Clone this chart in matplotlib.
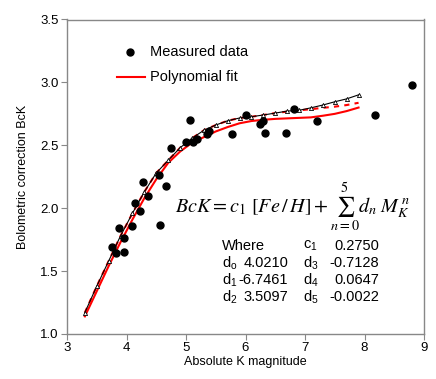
import matplotlib
matplotlib.use("Agg")
import matplotlib.pyplot as plt

plt.rcParams['font.family'] = ['Liberation Sans', 'DejaVu Sans']
plt.rcParams['mathtext.fontset'] = 'stix'

# measured data (absolute K magnitude, BcK)
meas_x = [4.27, 4.55, 4.67, 4.36, 4.15, 4.23, 4.56, 4.09, 3.87, 3.96, 3.75, 3.83, 3.95,
          5.07, 4.74, 5.00, 5.11, 5.18, 5.38, 5.36, 5.77, 6.00, 6.24, 6.30, 6.32, 6.68,
          6.82, 7.20, 8.18, 8.79]
meas_y = [2.21, 2.26, 2.18, 2.10, 2.04, 1.98, 1.87, 1.86, 1.84, 1.76, 1.69, 1.64, 1.65,
          2.70, 2.48, 2.53, 2.53, 2.55, 2.61, 2.59, 2.59, 2.74, 2.67, 2.69, 2.60, 2.60,
          2.79, 2.69, 2.74, 2.98]

# model curves
mk = [3.3, 3.5, 3.7, 3.9, 4.1, 4.3, 4.5, 4.7, 4.9, 5.1, 5.3, 5.5, 5.7, 5.9, 6.1, 6.3,
      6.5, 6.7, 6.9, 7.1, 7.3, 7.5, 7.7, 7.9]
bck_tri = [1.17, 1.38, 1.58, 1.78, 1.96, 2.13, 2.28, 2.38, 2.48, 2.556, 2.619, 2.661,
           2.695, 2.717, 2.727, 2.741, 2.756, 2.772, 2.778, 2.798, 2.82, 2.846, 2.869, 2.901]
bck_fit = [1.14, 1.34, 1.54, 1.73, 1.91, 2.08, 2.23, 2.36, 2.45, 2.52, 2.565, 2.61,
           2.645, 2.675, 2.693, 2.703, 2.71, 2.714, 2.718, 2.722, 2.735, 2.75, 2.772, 2.80]
bck_dot = [1.17, 1.38, 1.58, 1.78, 1.96, 2.13, 2.28, 2.38, 2.48, 2.556, 2.619, 2.661,
           2.695, 2.717, 2.727, 2.741, 2.756, 2.768, 2.778, 2.787, 2.798, 2.807, 2.82, 2.838]

fig = plt.figure(figsize=(4.36, 3.79), dpi=100)
ax = fig.add_axes([67/436, 1 - 334/379, 357/436, 314.5/379])

ax.plot(mk, bck_fit, color='#ff0000', lw=1.5, zorder=2)
ax.plot(mk, bck_dot, color='#ff0000', lw=1.5, dashes=(2.5, 2.5), zorder=2)
ax.plot(mk, bck_tri, color='black', lw=0.8, marker='^', ms=3, mfc='white',
        mec='black', mew=0.6, zorder=3)
ax.plot(meas_x, meas_y, 'o', color='black', ms=5.0, zorder=4)

ax.set_xlim(3, 9)
ax.set_ylim(1.0, 3.5)
ax.set_xticks([3, 4, 5, 6, 7, 8, 9])
ax.set_yticks([1.0, 1.5, 2.0, 2.5, 3.0, 3.5])
ax.set_yticklabels(['1.0', '1.5', '2.0', '2.5', '3.0', '3.5'])
for s in ax.spines.values():
    s.set_color('#888888')
    s.set_linewidth(1.0)
ax.tick_params(direction='out', length=4, color='#888888', labelsize=9.5, pad=2)

ax.set_xlabel('Absolute K magnitude', fontsize=9, labelpad=1)
ax.set_ylabel('Bolometric correction BcK', fontsize=9, labelpad=8)

# legend drawn by hand (pixel positions turned into data units)
def px(x):
    return 3 + (x - 67)/59.5

def py(y):
    return 1 + (334 - y)/125.8

ax.plot([px(130)], [py(52.5)], 'o', color='black', ms=5.0)
ax.plot([px(117), px(145)], [py(77.5)] * 2, color='#ff0000', lw=1.5)
ax.text(px(150), py(52.5), 'Measured data', fontsize=10.5, va='center', ha='left')
ax.text(px(150), py(77.5), 'Polynomial fit', fontsize=10.5, va='center', ha='left')

# equation
fig.text(293/436, 1 - 207/379,
         r'$BcK = c_1\ [Fe\,/\,H] + \sum_{n=0}^{5} d_n\ M_K^{\,n}$',
         fontsize=14.5, ha='center', va='center')

rows = [
    ('Where', '', r'c$_\mathregular{1}$', '0.2750'),
    (r'd$_\mathregular{o}$', '4.0210', r'd$_\mathregular{3}$', '-0.7128'),
    (r'd$_\mathregular{1}$', '-6.7461', r'd$_\mathregular{4}$', '0.0647'),
    (r'd$_\mathregular{2}$', '3.5097', r'd$_\mathregular{5}$', '-0.0022'),
]
row_y = [246, 263, 280, 297]
for (a, b, c, d), yy in zip(rows, row_y):
    fy = 1 - yy/379
    fig.text(222/436, fy, a, fontsize=10.5, ha='left', va='center')
    if b:
        fig.text(288/436, fy, b, fontsize=10.5, ha='right', va='center')
    fig.text(303/436, fy, c, fontsize=10.5, ha='left', va='center')
    fig.text(379/436, fy, d, fontsize=10.5, ha='right', va='center')

fig.savefig('out.png', dpi=100)
